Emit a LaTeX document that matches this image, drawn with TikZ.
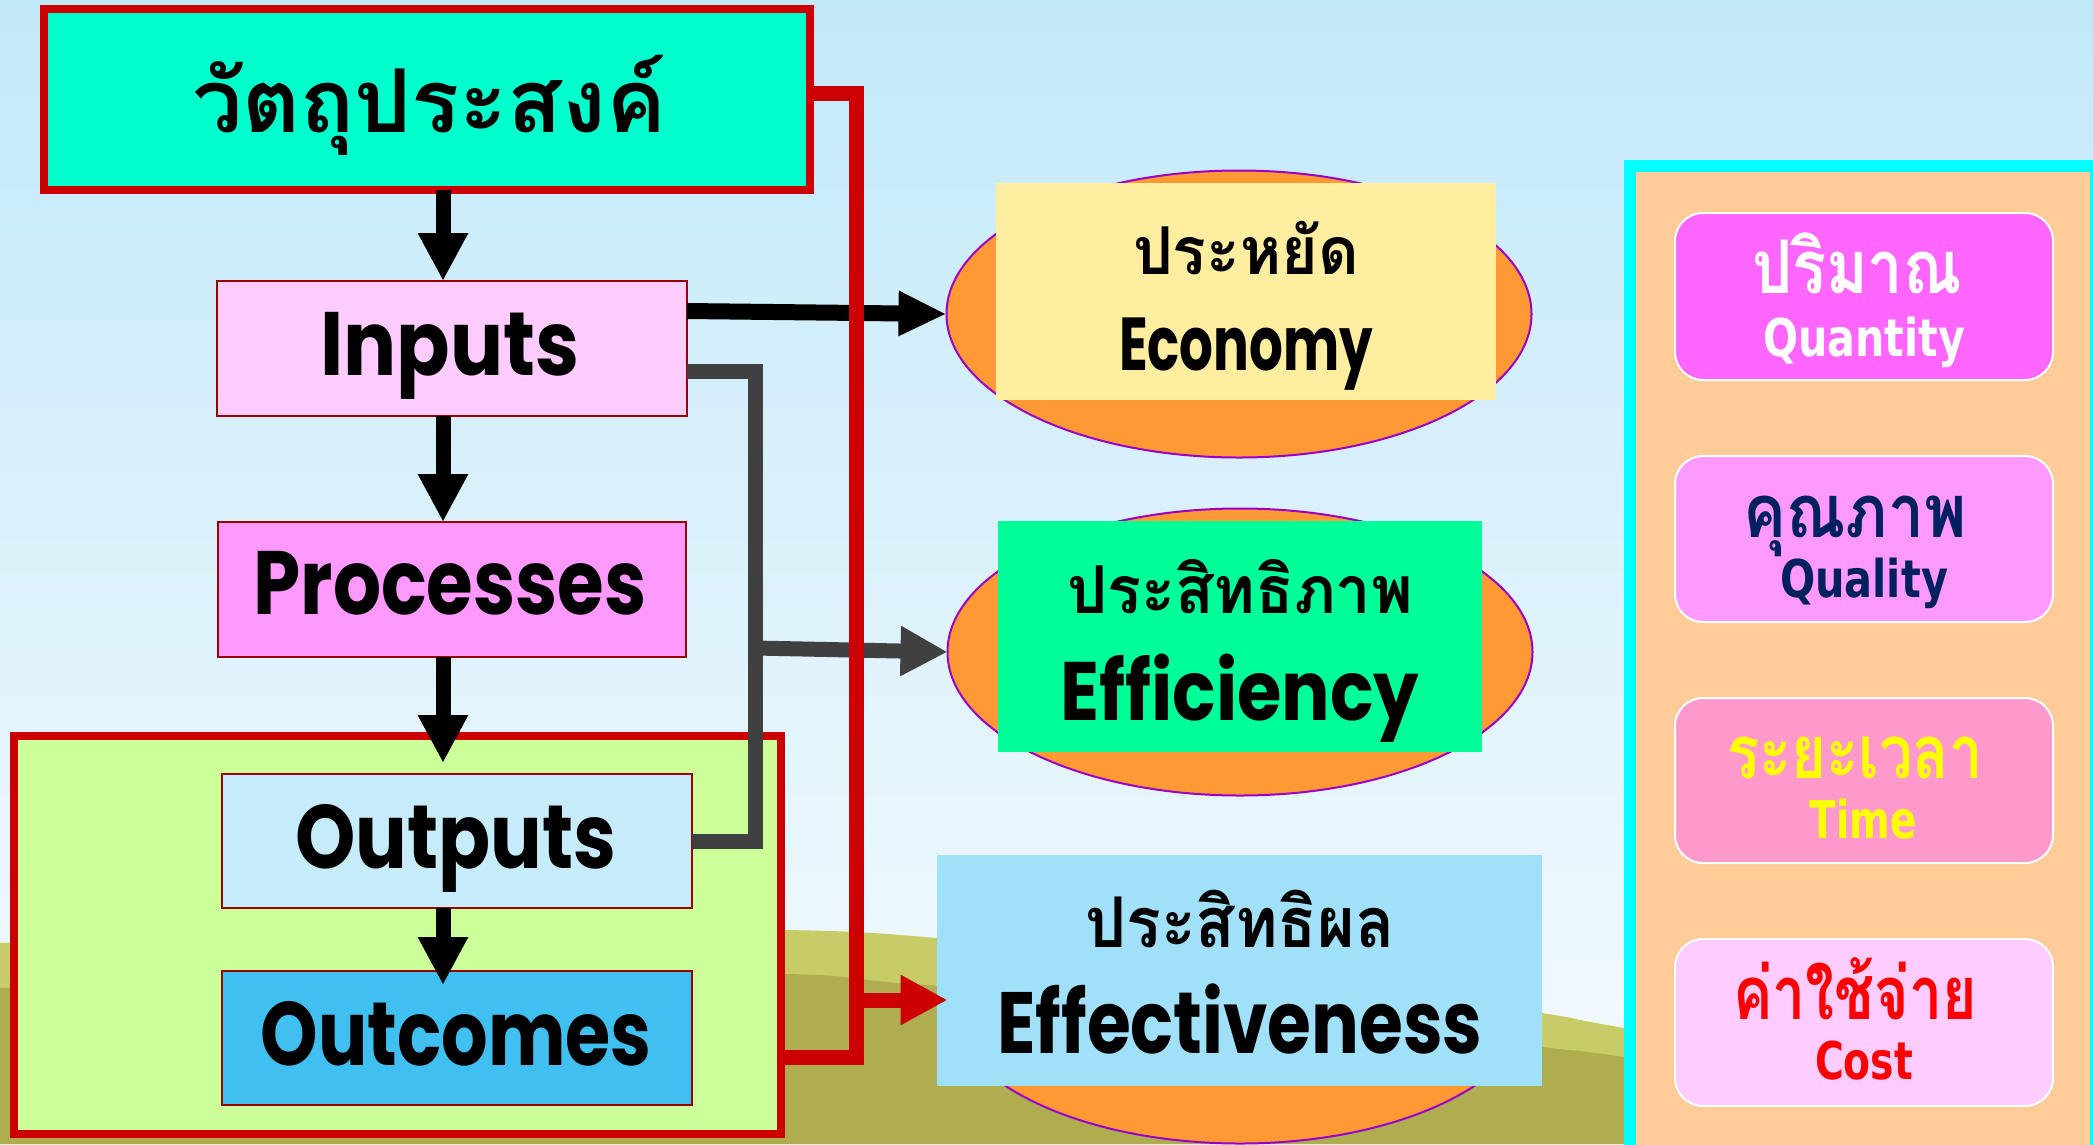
\documentclass[tikz,border=0pt]{standalone}
\usepackage{fontspec}
\usepackage{graphicx}
\setmainfont{Poppins}
\newfontfamily\thaifont[Script=Thai]{Loma}
\newfontfamily\dvfont{DejaVu Sans}
\usetikzlibrary{arrows.meta,shapes.geometric,calc}
\newcommand\fitw[2]{\resizebox{#1}{\height}{#2}}
\newcommand\enfs[1]{\bfseries\fontsize{#1}{#1}\selectfont}
\newcommand\thfs[1]{\thaifont\bfseries\fontsize{#1}{#1}\selectfont}
\newcommand\dvfs[1]{\dvfont\bfseries\fontsize{#1}{#1}\selectfont}
\definecolor{skytop}{HTML}{C2E9F9}
\definecolor{skybot}{HTML}{F6FBFE}
\definecolor{hilllight}{HTML}{C8CC66}
\definecolor{hilldark}{HTML}{AFAD50}
\definecolor{objfill}{HTML}{00FFCC}
\definecolor{boxred}{HTML}{CC0000}
\definecolor{thinred}{HTML}{990000}
\definecolor{inpfill}{HTML}{FFCCFF}
\definecolor{procfill}{HTML}{FF99FF}
\definecolor{outfill}{HTML}{C6ECFA}
\definecolor{outcfill}{HTML}{40C0F0}
\definecolor{greenfill}{HTML}{CCFF99}
\definecolor{ellfill}{HTML}{FF9933}
\definecolor{ellline}{HTML}{9900CC}
\definecolor{econfill}{HTML}{FFEEA0}
\definecolor{efffill}{HTML}{00FF99}
\definecolor{effecfill}{HTML}{A0E0F8}
\definecolor{panelfill}{HTML}{FFCC99}
\definecolor{panelline}{HTML}{00FFFF}
\definecolor{qfill}{HTML}{FF66FF}
\definecolor{qlfill}{HTML}{FF99FF}
\definecolor{tfill}{HTML}{FF99CC}
\definecolor{cfill}{HTML}{FFCCFF}
\definecolor{navy}{HTML}{002060}
\definecolor{darkgray}{HTML}{404040}
\definecolor{timeyellow}{HTML}{FFFF00}
\definecolor{costred}{HTML}{FF0000}
\begin{document}
\begin{tikzpicture}[x=1pt,y=-1pt,
  thinbox/.style={rectangle,draw=thinred,line width=1.5pt,inner sep=0pt,outer sep=0pt},
  thickbox/.style={rectangle,draw=boxred,line width=8pt,inner sep=0pt,outer sep=0pt},
  ell/.style={ellipse,draw=ellline,line width=2pt,fill=ellfill,inner sep=0pt,outer sep=0pt,minimum width=585pt,minimum height=287pt},
  plainbox/.style={rectangle,inner sep=0pt,outer sep=0pt},
  pill/.style={rectangle,rounded corners=28pt,draw=white,line width=2pt,inner sep=0pt,outer sep=0pt,minimum width=378pt},
  lbl/.style={anchor=base,inner sep=0pt,outer sep=0pt},
  blkarrow/.style={draw=black,line width=15pt,-{Triangle[length=48pt,width=47pt]}},
  grayline/.style={draw=darkgray,line width=15pt,line join=miter},
  grayarrow/.style={draw=darkgray,line width=15pt,-{Triangle[length=47pt,width=47pt]}},
  redline/.style={draw=boxred,line width=15pt,line join=miter},
  redarrow/.style={draw=boxred,line width=15pt,-{Triangle[length=47pt,width=47pt]}}]
\useasboundingbox (0,0) rectangle (2093,1144);
\clip (0,0) rectangle (2093,1144);
% background
\fill[top color=skytop,bottom color=skybot] (0,0) rectangle (2093,1144);
\fill[hilllight] plot[smooth] coordinates {(0,943) (400,929) (785,930) (937,938) (1250,968) (1542,1013) (1624,1028) (2093,1110)} -- (2093,1144) -- (0,1144) -- cycle;
\fill[hilldark] plot[smooth] coordinates {(0,988) (400,975) (785,974) (900,983) (1250,1010) (1542,1047) (1624,1057) (2093,1125)} -- (2093,1144) -- (0,1144) -- cycle;
% right panel
\node[plainbox,draw=panelline,line width=12pt,fill=panelfill,minimum width=466pt,minimum height=990pt] (panel) at (1863,661) {};
\node[pill,fill=qfill,minimum height=167pt] (p1) at (1864,296.5) {};
\node[pill,fill=qlfill,minimum height=166pt] (p2) at (1864,539) {};
\node[pill,fill=tfill,minimum height=165pt] (p3) at (1864,780.5) {};
\node[pill,fill=cfill,minimum height=167pt] (p4) at (1864,1022.5) {};
\node[lbl,text=white] (p1th) at (1857,293) {\thfs{74}\fitw{210pt}{ปริมาณ}};
\node[lbl,text=white] (p1en) at (1864,356) {\dvfs{52}\fitw{202pt}{Quantity}};
\node[lbl,text=navy] (p2th) at (1855,537) {\thfs{74}\fitw{223pt}{คุณภาพ}};
\node[lbl,text=navy] (p2en) at (1864,597) {\dvfs{52}\fitw{168pt}{Quality}};
\node[lbl,text=timeyellow] (p3th) at (1855,778) {\thfs{74}\fitw{256pt}{ระยะเวลา}};
\node[lbl,text=timeyellow] (p3en) at (1863,838) {\dvfs{52}\fitw{107pt}{Time}};
\node[lbl,text=costred] (p4th) at (1855,1019) {\thfs{74}\fitw{244pt}{ค่าใช้จ่าย}};
\node[lbl,text=costred] (p4en) at (1864,1079) {\dvfs{52}\fitw{98pt}{Cost}};
% left chain
\node[thickbox,fill=greenfill,minimum width=767pt,minimum height=398pt] (green) at (397.5,935) {};
\node[thickbox,fill=objfill,minimum width=766pt,minimum height=181pt] (obj) at (427,99.5) {};
\node[thinbox,fill=inpfill,minimum width=470pt,minimum height=135pt] (inp) at (452,348.5) {};
\node[thinbox,fill=procfill,minimum width=468pt,minimum height=135pt] (proc) at (452,589.5) {};
\node[thinbox,fill=outfill,minimum width=470pt,minimum height=134pt] (out) at (457,841) {};
\node[thinbox,fill=outcfill,minimum width=470pt,minimum height=134pt] (outc) at (457,1038) {};
\node[lbl] (tobj) at (429,132) {\thfs{88}\fitw{474pt}{วัตถุประสงค์}};
\node[lbl] (tinp) at (450,375) {\enfs{90}\fitw{259pt}{Inputs}};
\node[lbl] (tproc) at (450,614) {\enfs{90}\fitw{393pt}{Processes}};
\node[lbl] (tout) at (456,868) {\enfs{90}\fitw{321pt}{Outputs}};
\node[lbl] (toutc) at (456,1065) {\enfs{90}\fitw{391pt}{Outcomes}};
% ellipses and result boxes
\node[ell] (econell) at (1239,314) {};
\node[ell] (effell) at (1240,652) {};
\node[ell] (effecell) at (1240,1000) {};
\node[plainbox,fill=econfill,minimum width=500pt,minimum height=217pt] (econ) at (1246,291.5) {};
\node[plainbox,fill=efffill,minimum width=484pt,minimum height=231pt] (eff) at (1240,636.5) {};
\node[plainbox,fill=effecfill,minimum width=605pt,minimum height=231pt] (effec) at (1239.5,970.5) {};
\node[lbl] (teconth) at (1246,274) {\thfs{66}\fitw{226pt}{ประหยัด}};
\node[lbl] (teconen) at (1246,370) {\enfs{75}\fitw{254pt}{Economy}};
\node[lbl] (teffth) at (1240,613) {\thfs{66}\fitw{346pt}{ประสิทธิภาพ}};
\node[lbl] (teffen) at (1240,720) {\enfs{83}\fitw{359pt}{Efficiency}};
\node[lbl] (teffecth) at (1240,947) {\thfs{70}\fitw{309pt}{ประสิทธิผล}};
\node[lbl] (teffecen) at (1240,1053) {\enfs{87}\fitw{485pt}{Effectiveness}};
% connectors
\coordinate (ax) at (443,0);
\coordinate (gv) at (755,0);
\coordinate (rv) at (856,0);
\draw[blkarrow] (obj.south -| ax) -- (inp.north -| ax);
\draw[blkarrow] (inp.south -| ax) -- (proc.north -| ax);
\draw[blkarrow] (proc.south -| ax) -- ($(out.north -| ax)+(0,-11)$);
\draw[blkarrow] (out.south -| ax) -- ($(outc.north -| ax)+(0,14)$);
\draw[grayarrow] (gv |- 0,648) -- (effell.west);
\draw[grayline] ([yshift=-22.5pt]inp.east) -| (gv |- out.east) -- (out.east);
\draw[blkarrow,line width=16pt,-{Triangle[length=48pt,width=42pt]}] ([yshift=37.5pt]inp.east) -- (econell.west);
\draw[redarrow] (rv |- 0,1000) -- (effecell.west);
\draw[redline] ([yshift=6.5pt]obj.east) -| (rv |- 0,1057) -- (green.east |- 0,1057);
\end{tikzpicture}
\end{document}
